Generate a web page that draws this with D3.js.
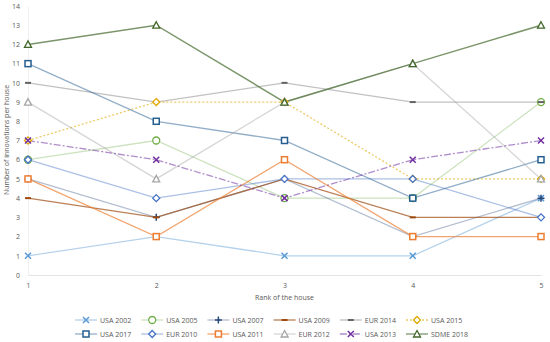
<!DOCTYPE html>
<html>
<head>
<meta charset="utf-8">
<title>Innovations per house</title>
<script src="https://d3js.org/d3.v7.min.js"></script>
<style>
  body { margin: 0; background: #fff; }
  text { font-family: "Open Sans", "Liberation Sans", sans-serif; fill: #595959; }
</style>
</head>
<body>
<script>
var w = 550;
var h = 342;

// ranks on the x axis
var ranks = [1, 2, 3, 4, 5];
var yTicks = [0, 1, 2, 3, 4, 5, 6, 7, 8, 9, 10, 11, 12, 13, 14];

var seriesNames = ["USA 2002", "USA 2005", "USA 2007", "USA 2009", "EUR 2014", "USA 2015",
                   "USA 2017", "EUR 2010", "USA 2011", "EUR 2012", "USA 2013", "SDME 2018"];

var usa2002 = [1, 2, 1, 1, 4];
var usa2005 = [6, 7, 4, 4, 9];
var usa2007 = [5, 3, 5, 2, 4];
var usa2009 = [4, 3, 5, 3, 3];
var eur2014 = [10, 9, 10, 9, 9];
var usa2015 = [7, 9, 9, 5, 5];
var usa2017 = [11, 8, 7, 4, 6];
var eur2010 = [6, 4, 5, 5, 3];
var usa2011 = [5, 2, 6, 2, 2];
var eur2012 = [9, 5, 9, 11, 5];
var usa2013 = [7, 6, 4, 6, 7];
var sdme2018 = [12, 13, 9, 11, 13];

var seriesValues = [usa2002, usa2005, usa2007, usa2009, eur2014, usa2015,
                    usa2017, eur2010, usa2011, eur2012, usa2013, sdme2018];

// look of each series: colour, marker, dash, line opacity
var styles = [
  {c: "#5b9bd5", m: "x", dash: null, op: 0.45},
  {c: "#70ad47", m: "circle", dash: null, op: 0.35},
  {c: "#264478", m: "plus", dash: null, op: 0.35},
  {c: "#9e480e", m: "dash", dash: null, op: 0.7},
  {c: "#636363", m: "dash", dash: null, op: 0.4},
  {c: "#e0a800", m: "diamond", dash: "2,2", op: 0.6},
  {c: "#255e91", m: "square", dash: null, op: 0.5},
  {c: "#4472c4", m: "diamond", dash: null, op: 0.45},
  {c: "#ed7d31", m: "square", dash: null, op: 0.7},
  {c: "#a5a5a5", m: "triangle", dash: null, op: 0.45},
  {c: "#7030a0", m: "x", dash: "7,2,2,2", op: 0.55},
  {c: "#43682b", m: "triangle", dash: null, op: 0.7}
];

var svg = d3.select("body").append("svg")
  .attr("width", w)
  .attr("height", h);

var xScale = d3.scalePoint()
  .domain(ranks)
  .range([28, 541]);

var yScale = d3.scaleLinear()
  .domain([0, 14])
  .range([275, 6]);

// axes
var xAxis = d3.axisBottom(xScale).tickSize(0).tickPadding(8);
var yAxis = d3.axisLeft(yScale).tickValues(yTicks).tickSize(0).tickPadding(8);

var gx = svg.append("g")
  .attr("transform", "translate(0,275)")
  .call(xAxis);
gx.select(".domain").attr("stroke", "#e3e3e3");
gx.selectAll("text").attr("font-size", 7).style("fill", "#595959");

var gy = svg.append("g")
  .attr("transform", "translate(28,0)")
  .call(yAxis);
gy.select(".domain").attr("stroke", "#f0f0f0");
gy.selectAll("text").attr("font-size", 7).style("fill", "#595959");

svg.append("text")
  .attr("x", xScale(3))
  .attr("y", 300)
  .attr("text-anchor", "middle")
  .attr("font-size", 7)
  .text("Rank of the house");

svg.append("text")
  .attr("transform", "translate(9,140) rotate(-90)")
  .attr("text-anchor", "middle")
  .attr("font-size", 7)
  .text("Number of innovations per house");

function drawMarker(g, type, color) {
  if (type == "square") {
    g.append("rect").attr("x", -3).attr("y", -3).attr("width", 6).attr("height", 6)
      .attr("fill", "#fff").attr("stroke", color).attr("stroke-width", 1.5);
  } else if (type == "circle") {
    g.append("circle").attr("r", 3.5)
      .attr("fill", "#fff").attr("stroke", color).attr("stroke-width", 1.3);
  } else if (type == "diamond") {
    g.append("path").attr("d", "M0,-3.5L3.5,0L0,3.5L-3.5,0Z")
      .attr("fill", "#fff").attr("stroke", color).attr("stroke-width", 1.3);
  } else if (type == "triangle") {
    g.append("path").attr("d", "M0,-3.5L3.5,3L-3.5,3Z")
      .attr("fill", "#fff").attr("stroke", color).attr("stroke-width", 1.3);
  } else if (type == "x") {
    g.append("path").attr("d", "M-3,-3L3,3M3,-3L-3,3")
      .attr("stroke", color).attr("stroke-width", 1.5);
  } else if (type == "plus") {
    g.append("path").attr("d", "M-3.5,0L3.5,0M0,-3.5L0,3.5")
      .attr("stroke", color).attr("stroke-width", 1.5);
  } else if (type == "dash") {
    g.append("path").attr("d", "M-3,0L3,0")
      .attr("stroke", color).attr("stroke-width", 2);
  }
}

var line = d3.line()
  .x(function(d, i) { return xScale(ranks[i]); })
  .y(function(d) { return yScale(d); });

// lines first, then markers on top
seriesValues.forEach(function(vals, s) {
  var st = styles[s];
  svg.append("path")
    .datum(vals)
    .attr("d", line)
    .attr("fill", "none")
    .attr("stroke", st.c)
    .attr("stroke-opacity", st.op)
    .attr("stroke-width", s == 11 ? 1.5 : 1.3)
    .attr("stroke-dasharray", st.dash);
});

seriesValues.forEach(function(vals, s) {
  var st = styles[s];
  svg.selectAll(null)
    .data(vals)
    .enter()
    .append("g")
    .attr("transform", function(d, i) {
      return "translate(" + xScale(ranks[i]) + "," + yScale(d) + ")";
    })
    .each(function() { drawMarker(d3.select(this), st.m, st.c); });
});

// legend, 2 rows of 6
var legend = svg.append("g");
seriesNames.forEach(function(name, s) {
  var st = styles[s];
  var col = s % 6, row = Math.floor(s / 6);
  var lx = 75 + col * 66.2;
  var ly = 320 + row * 14;
  var item = legend.append("g").attr("transform", "translate(" + lx + "," + ly + ")");
  item.append("line")
    .attr("x1", 0).attr("x2", 22).attr("y1", 0).attr("y2", 0)
    .attr("stroke", st.c)
    .attr("stroke-opacity", st.op)
    .attr("stroke-width", 1.3)
    .attr("stroke-dasharray", st.dash);
  drawMarker(item.append("g").attr("transform", "translate(11,0)"), st.m, st.c);
  item.append("text")
    .attr("x", 25)
    .attr("y", 2.5)
    .attr("font-size", 7)
    .text(name);
});
</script>
</body>
</html>
